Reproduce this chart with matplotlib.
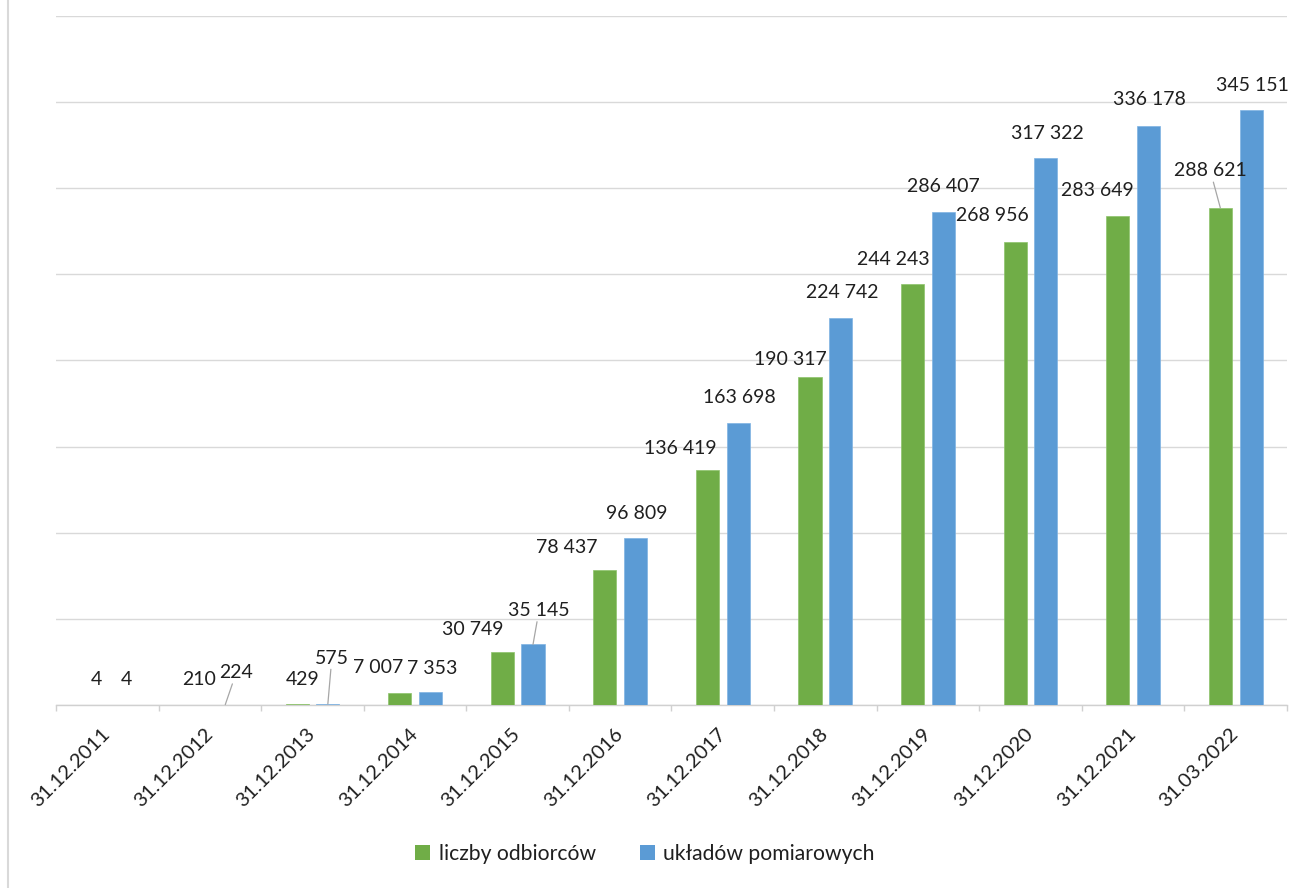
import matplotlib
matplotlib.use("Agg")
import matplotlib.pyplot as plt
import numpy as np
from matplotlib.lines import Line2D
from matplotlib.patches import Patch

categories = ['31.12.2011', '31.12.2012', '31.12.2013', '31.12.2014', '31.12.2015',
              '31.12.2016', '31.12.2017', '31.12.2018', '31.12.2019', '31.12.2020',
              '31.12.2021', '31.03.2022']
odbiorcy = [4, 210, 429, 7007, 30749, 78437, 136419, 190317, 244243, 268956, 283649, 288621]
uklady = [4, 224, 575, 7353, 35145, 96809, 163698, 224742, 286407, 317322, 336178, 345151]
series_names = ['liczby odbiorców', 'układów pomiarowych']

# label offsets in pixels (dx, dy above bar top) - layout only
green_off = [(5, 25), (5, 25), (6, 25), (-22, 25), (-29, 23), (-38, 22), (-27, 22),
             (-20, 18), (-19, 25), (-23, 26), (-20, 26), (-10, 37)]
blue_off = [(4, 25), (11, 32), (4, 46), (2, 24), (6, 34), (1, 25), (1, 26),
            (1, 25), (0, 25), (1, 25), (1, 26), (1, 25)]
green_leader = [False] * 11 + [True]
blue_leader = [False, True, True, False, True] + [False] * 7

GREEN = '#70AD47'
BLUE = '#5B9BD5'
GRID = '#D9D9D9'
FONT = 'Lato'
TEXT = '#1F1F1F'

plt.rcParams['font.family'] = [FONT, 'DejaVu Sans']

W, H = 1304, 888
fig = plt.figure(figsize=(W / 100, H / 100), dpi=100)
ax = fig.add_axes([56 / W, 1 - 705 / H, (1287 - 56) / W, (705 - 16) / H])

x = np.arange(len(categories))
bw = 0.225
off = 0.15
ax.bar(x - off, odbiorcy, bw, color=GREEN, edgecolor='#8CC36A', linewidth=0.5, zorder=3)
ax.bar(x + off, uklady, bw, color=BLUE, edgecolor='#7FB3E3', linewidth=0.5, zorder=3)

ax.set_xlim(-0.5, len(categories) - 0.5)
ax.set_ylim(0, 400000)
ax.set_yticks(np.arange(0, 400001, 50000))
ax.yaxis.grid(True, color=GRID, linewidth=1.0, zorder=0)
ax.tick_params(axis='y', left=False, labelleft=False)
for s in ['top', 'right', 'left']:
    ax.spines[s].set_visible(False)
ax.spines['bottom'].set_color('#D0D0D0')
ax.spines['bottom'].set_linewidth(1.0)

ax.set_xticks(x)
ax.set_xticklabels(categories, rotation=45, ha='right', va='center',
                   rotation_mode='anchor', fontsize=14.5, color=TEXT)
ax.tick_params(axis='x', which='major', length=0, pad=19)
ax.set_xticks(np.arange(-0.5, len(categories), 1.0), minor=True)
ax.tick_params(axis='x', which='minor', length=4, color='#D0D0D0', width=1.0)


def fmt(v):
    return f"{v:,}".replace(",", " ")


def label(xpos, val, o, leader):
    kw = {}
    if leader:
        kw['arrowprops'] = dict(arrowstyle='-', color='#A6A6A6', lw=0.9,
                                shrinkA=0, shrinkB=0)
    ax.annotate(fmt(val), xy=(xpos, val), xytext=o, textcoords='offset pixels',
                ha='center', va='center', fontsize=14, color=TEXT,
                zorder=5, **kw)


for i in range(len(categories)):
    label(x[i] - off, odbiorcy[i], green_off[i], green_leader[i])
    label(x[i] + off, uklady[i], blue_off[i], blue_leader[i])

handles = [Patch(facecolor=GREEN, edgecolor='none'), Patch(facecolor=BLUE, edgecolor='none')]
fig.legend(handles, series_names, loc='center', bbox_to_anchor=(645 / W, 1 - 854 / H),
           ncol=2, frameon=False, fontsize=15.2, handlelength=0.7, handleheight=0.7,
           handletextpad=0.4, columnspacing=2.1, labelcolor=TEXT)

fig.add_artist(Line2D([7.5 / W, 7.5 / W], [0, 1], transform=fig.transFigure,
                      color='#D9D9D9', linewidth=1.5))

fig.savefig('out.png', dpi=100, facecolor='white')
